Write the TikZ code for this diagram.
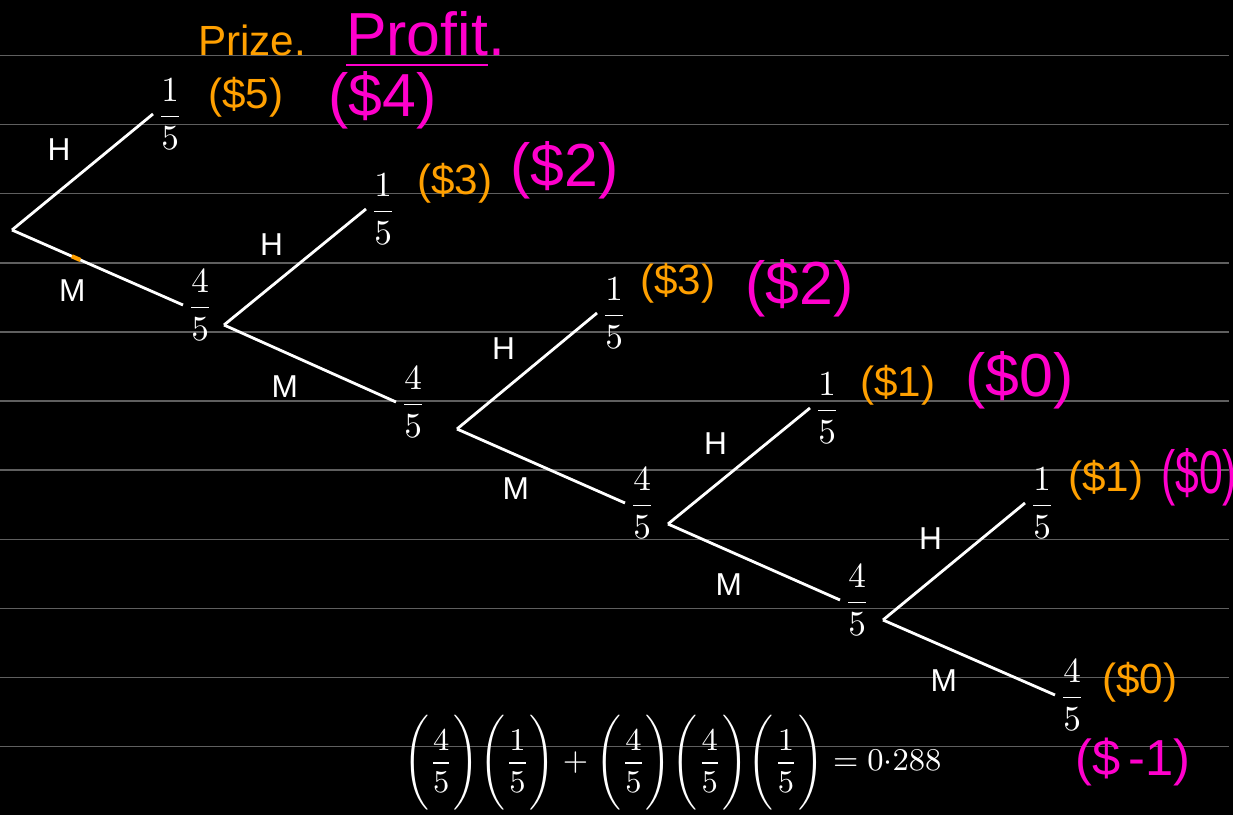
\documentclass[tikz,border=0pt]{standalone}
\usepackage{amsmath}
\usepackage{fontspec}
\setmainfont{Liberation Sans}
\usetikzlibrary{positioning,calc}
\definecolor{prizeorange}{RGB}{255,160,0}
\definecolor{profitpink}{RGB}{255,0,204}
\definecolor{ruling}{RGB}{95,95,95}

\begin{document}
\begin{tikzpicture}[x=0.01cm, y=-0.01cm,
    every node/.style={text=white, inner sep=1pt},
    branch/.style={draw=white, line width=0.8pt},
    rule/.style={draw=ruling, line width=0.4pt},
    prob/.style={font=\normalsize},
    pick/.style={font=\small, inner sep=3pt},
    prize/.style={text=prizeorange, font=\large, anchor=west},
    profit/.style={text=profitpink, font=\LARGE, anchor=west}]
    \useasboundingbox (0,0) rectangle (1233,815);
    \fill[black] (0,0) rectangle (1233,815);
    \foreach \k in {0,...,10}
      \draw[rule] (0,55.5+69.1*\k) -- (1229,55.5+69.1*\k);

    \coordinate (r) at (12,230);
    \coordinate (a) at (224,325);
    \coordinate (b) at (457,429);
    \coordinate (c) at (668,524);
    \coordinate (d) at (883,620);
    \coordinate (h1) at (153,114);
    \coordinate (m1) at (183,305);
    \coordinate (h2) at (366,209);
    \coordinate (m2) at (396,402);
    \coordinate (h3) at (597,313);
    \coordinate (m3) at (625,503);
    \coordinate (h4) at (810,408);
    \coordinate (m4) at (840,600);
    \coordinate (h5) at (1025,503);
    \coordinate (m5) at (1055,695);

    \draw[branch] (r) -- (h1) node[pick, midway, above left] (th1) {H};
    \draw[branch] (r) -- (m1) node[pick, midway, below left] (tm1) {M};
    \draw[branch] (a) -- (h2) node[pick, midway, above left] (th2) {H};
    \draw[branch] (a) -- (m2) node[pick, midway, below left] (tm2) {M};
    \draw[branch] (b) -- (h3) node[pick, midway, above left] (th3) {H};
    \draw[branch] (b) -- (m3) node[pick, midway, below left] (tm3) {M};
    \draw[branch] (c) -- (h4) node[pick, midway, above left] (th4) {H};
    \draw[branch] (c) -- (m4) node[pick, midway, below left] (tm4) {M};
    \draw[branch] (d) -- (h5) node[pick, midway, above left] (th5) {H};
    \draw[branch] (d) -- (m5) node[pick, midway, below left] (tm5) {M};
    \draw[prizeorange, line width=1.2pt] ($(r)!0.35!(m1)$) -- ($(r)!0.4!(m1)$);

    \node[prob, right=0pt of h1] (fh1) {$\dfrac{1}{5}$};
    \node[prob, right=0pt of m1] (fm1) {$\dfrac{4}{5}$};
    \node[prob, right=0pt of h2] (fh2) {$\dfrac{1}{5}$};
    \node[prob, right=0pt of m2] (fm2) {$\dfrac{4}{5}$};
    \node[prob, right=0pt of h3] (fh3) {$\dfrac{1}{5}$};
    \node[prob, right=0pt of m3] (fm3) {$\dfrac{4}{5}$};
    \node[prob, right=0pt of h4] (fh4) {$\dfrac{1}{5}$};
    \node[prob, right=0pt of m4] (fm4) {$\dfrac{4}{5}$};
    \node[prob, right=0pt of h5] (fh5) {$\dfrac{1}{5}$};
    \node[prob, right=0pt of m5] (fm5) {$\dfrac{4}{5}$};

    \node[prize] (prizehead) at (194,40) {Prize.};
    \node[profit] (profithead) at (342,40) {\underline{Profit}.};

    \node[prize] (w1) at (204,97) {(\$5)};
    \node[profit] (p1) at (324,100) {(\$4)};
    \node[prize] (w2) at (413,183) {(\$3)};
    \node[profit] (p2) at (506,170) {(\$2)};
    \node[prize] (w3) at (636,283) {(\$3)};
    \node[profit] (p3) at (741,288) {(\$2)};
    \node[prize] (w4) at (856,385) {(\$1)};
    \node[profit] (p4) at (961,380) {(\$0)};
    \node[prize] (w5) at (1064,480) {(\$1)};
    \node[profit] (p5) at (1157,477) {\scalebox{0.7}[1]{(\$0)}};
    \node[prize] (w6) at (1098,682) {(\$0)};
    \node[profit, font=\Large] (p6) at (1071,762) {(\$\,-1)};

    \node[font=\small, anchor=west] (sum) at (399,763)
      {$\Biggl(\dfrac{4}{5}\Biggr)\Biggl(\dfrac{1}{5}\Biggr)+\Biggl(\dfrac{4}{5}\Biggr)\Biggl(\dfrac{4}{5}\Biggr)\Biggl(\dfrac{1}{5}\Biggr)=0{\cdot}288$};
\end{tikzpicture}
\end{document}
